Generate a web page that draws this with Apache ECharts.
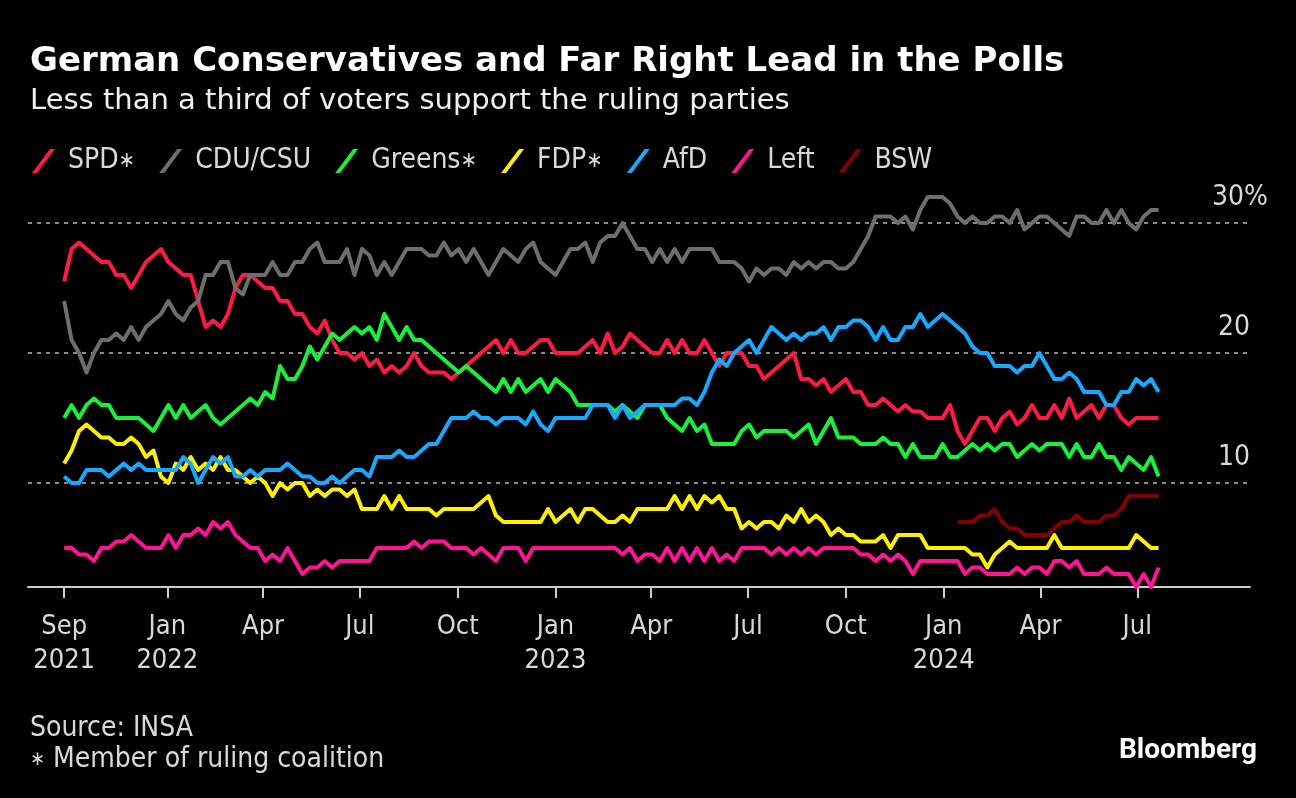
<!DOCTYPE html>
<html><head><meta charset="utf-8">
<script src="https://cdn.jsdelivr.net/npm/echarts@6/dist/echarts.min.js"></script>
<style>html,body{margin:0;padding:0;background:#000;}#chart{width:1296px;height:798px;}</style>
</head><body><div id="chart"></div>
<script>
// Weekly sample dates (Sundays) read along the x axis
const dates = [
'2021-09-26',
'2021-10-03','2021-10-10','2021-10-17','2021-10-24','2021-10-31',
'2021-11-07','2021-11-14','2021-11-21','2021-11-28',
'2021-12-05','2021-12-12','2021-12-19','2021-12-26',
'2022-01-02','2022-01-09','2022-01-16','2022-01-23','2022-01-30',
'2022-02-06','2022-02-13','2022-02-20','2022-02-27',
'2022-03-06','2022-03-13','2022-03-20','2022-03-27',
'2022-04-03','2022-04-10','2022-04-17','2022-04-24',
'2022-05-01','2022-05-08','2022-05-15','2022-05-22','2022-05-29',
'2022-06-05','2022-06-12','2022-06-19','2022-06-26',
'2022-07-03','2022-07-10','2022-07-17','2022-07-24','2022-07-31',
'2022-08-07','2022-08-14','2022-08-21','2022-08-28',
'2022-09-04','2022-09-11','2022-09-18','2022-09-25',
'2022-10-02','2022-10-09','2022-10-16','2022-10-23','2022-10-30',
'2022-11-06','2022-11-13','2022-11-20','2022-11-27',
'2022-12-04','2022-12-11','2022-12-18','2022-12-25',
'2023-01-01','2023-01-08','2023-01-15','2023-01-22','2023-01-29',
'2023-02-05','2023-02-12','2023-02-19','2023-02-26',
'2023-03-05','2023-03-12','2023-03-19','2023-03-26',
'2023-04-02','2023-04-09','2023-04-16','2023-04-23','2023-04-30',
'2023-05-07','2023-05-14','2023-05-21','2023-05-28',
'2023-06-04','2023-06-11','2023-06-18','2023-06-25',
'2023-07-02','2023-07-09','2023-07-16','2023-07-23','2023-07-30',
'2023-08-06','2023-08-13','2023-08-20','2023-08-27',
'2023-09-03','2023-09-10','2023-09-17','2023-09-24',
'2023-10-01','2023-10-08','2023-10-15','2023-10-22','2023-10-29',
'2023-11-05','2023-11-12','2023-11-19','2023-11-26',
'2023-12-03','2023-12-10','2023-12-17','2023-12-24','2023-12-31',
'2024-01-07','2024-01-14','2024-01-21','2024-01-28',
'2024-02-04','2024-02-11','2024-02-18','2024-02-25',
'2024-03-03','2024-03-10','2024-03-17','2024-03-24','2024-03-31',
'2024-04-07','2024-04-14','2024-04-21','2024-04-28',
'2024-05-05','2024-05-12','2024-05-19','2024-05-26',
'2024-06-02','2024-06-09','2024-06-16','2024-06-23','2024-06-30',
'2024-07-07','2024-07-14','2024-07-21'
];

const spd = [
25.5,28,28.5,28,27.5,27,27,26,26,25,
26,27,27.5,28,27,26.5,26,26,24,22,
22.5,22,23,25,26,26,25.5,25,25,24,
24,23,23,22,21.5,22.5,21,20,20,19.5,
20,19,19.5,18.5,19,18.5,19,20,19,18.5,
18.5,18.5,18,18.5,19,19.5,20,20.5,21,20,
21,20,20,20.5,21,21,20,20,20,20,
20.5,21,20,21.5,20,20.5,21.5,21,20.5,20,
20,21,20,21,20,20,21,20,19,20,
20,20,19,19,18,18.5,19,19.5,20,18,
18,17.5,18,17,17.5,18,17,17,16,16,
16.5,16,15.5,16,15.5,15.5,15,15,15,16,
14,13,14,15,15,14,15,15.5,14.5,15,
16,15,15,16,15,16.5,15,15.5,16,15,
16,16,15,14.5,15,15,15,15
];
const cdu = [
24,21,20,18.5,20,21,21,21.5,21,22,
21,22,22.5,23,24,23,22.5,23.5,24,26,
26,27,27,25,24.5,26,26,26,27,26,
26,27,27,28,28.5,27,27,27,28,26,
28,27.5,26,27,26,27,28,28,28,27.5,
27.5,28.5,27.5,28,27,28,27,26,27,28,
27.5,27,28,28.5,27,26.5,26,27,28,28,
28.5,27,28.5,29,29,30,29,28,28,27,
28,27,28,27,28,28,28,28,27,27,
27,26.5,25.5,26.5,26,26.5,26.5,26,27,26.5,
27,26.5,27,27,26.5,26.5,27,28,29,30.5,
30.5,30.5,30,30.5,29.5,31,32,32,32,31.5,
30.5,30,30.5,30,30,30.5,30.5,30,31,29.5,
30,30.5,30.5,30,29.5,29,30.5,30.5,30,30,
31,30,31,30,29.5,30.5,31,31
];
const greens = [
15,16,15,16,16.5,16,16,15,15,15,
15,14.5,14,15,16,15,16,15,15.5,16,
15,14.5,15,15.5,16,16.5,16,17,16.5,19,
18,18,19,20.5,19.5,20.5,21.5,21,21.5,22,
21.5,22,21,23,22,21,22,21,21,20.5,
20,19.5,19,18.5,19,18.5,18,17.5,17,18,
17,18,17,17.5,18,17,18,17.5,17,16,
16,16,16,16,15.5,16,15.5,15,16,16,
16,15,14.5,14,15,14,14.5,13,13,13,
13,14,14.5,13.5,14,14,14,14,13.5,14,
14.5,13,14,15,13.5,13.5,13.5,13,13,13,
13.5,13,13,12,13,12,12,12,13,12,
12,12.5,13,12.5,13,12.5,13,13,12,12.5,
13,12.5,13,13,13,12,13,12,12,13,
12,12,11,12,11.5,11,12,10.5
];
const fdp = [
11.5,12.5,14,14.5,14,13.5,13.5,13,13,13.5,
13,12,12.5,10.5,10,11.5,11,12,11,11.5,
11,12,11,11,10.5,10,10.5,10,9,10,
9.5,10,10,9,9.5,9,9.5,9.5,9,9.5,
8,8,8,9,8,9,8,8,8,8,
7.5,8,8,8,8,8,8.5,9,7.5,7,
7,7,7,7,7,8,7,7.5,8,7,
8,8,7.5,7,7,7.5,7,8,8,8,
8,8,9,8,9,8,9,8.5,9,8,
8,6.5,7,6.5,7,7,6.5,7.5,7,8,
7,7.5,7,6,6.5,6,6,5.5,5.5,5.5,
6,5,6,6,6,6,5,5,5,5,
5,5,4.5,4.5,3.5,4.5,5,5.5,5,5,
5,5,5,6,5,5,5,5,5,5,
5,5,5,5,6,5.5,5,5
];
const afd = [
10.5,10,10,11,11,11,10.5,11,11.5,11,
11.5,11,11,11,11,11,12,11.5,10,11,
12,11.5,12,10.5,10.5,11,10.5,11,11,11,
11.5,11,10.5,10.5,10,10,10.5,10,10.5,11,
11,10.5,12,12,12,12.5,12,12,12.5,13,
13,14,15,15,15,15.5,15,15,14.5,15,
15,15,14.5,15.5,14.5,14,15,15,15,15,
15,16,16,16,15,16,15,15.5,16,16,
16,16,16,16.5,16.5,16,17,18.5,19.5,19,
20,20.5,21,20,21,22,21.5,21,21.5,21,
21.5,21.5,22,21,22,22,22.5,22.5,22,21,
22,21,21,22,22,23,22,22.5,23,22.5,
22,21.5,20.5,20,20,19,19,19,18.5,19,
19,20,19,18,18,18.5,18,17,17,17,
16,16,17,17,18,17.5,18,17
];
const left = [
5,5,4.5,4.5,4,5,5,5.5,5.5,6,
5.5,5,5,5,6,5,6,6,6.5,6,
7,6.5,7,6,5.5,5,5,4,4.5,4,
5,4,3,3.5,3.5,4,3.5,4,4,4,
4,4,5,5,5,5,5,5.5,5,5.5,
5.5,5.5,5,5,5,4.5,5,4.5,4,5,
5,5,4,5,5,5,5,5,5,5,
5,5,5,5,5,4.5,5,4,4.5,4.5,
4,5,4,5,4,5,4,5,4,4.5,
4,5,5,5,5,4.5,5,4.5,5,4.5,
5,4.5,5,5,5,5,5,4.5,4.5,4,
4.5,4,4.5,4,3,4,4,4,4,4,
4,3,3.5,3.5,3,3,3,3,3.5,3,
3.5,3.5,3,4,4,3.5,4,3,3,3,
3.5,3,3,3,2,3,2,3.5
];
// BSW is polled from mid-January 2024
const bswStart = '2024-01-14';
const bsw = [
7,7,7,7.5,7.5,8,7,6.5,6.5,6,
6,6,6,6.5,7,7,7.5,7,7,7,
7.5,7.5,8,9,9,9,9,9
];

const seriesNames = ['SPD\u2217','CDU/CSU','Greens\u2217','FDP\u2217','AfD','Left','BSW'];
const seriesColors = ['#ff1a45','#6e6e6e','#19f03c','#fff000','#18a9ff','#ff1493','#840000'];
const tickDates = ['2021-09-26','2022-01-01','2022-04-01','2022-07-01','2022-10-01','2023-01-01','2023-04-01','2023-07-01','2023-10-01','2024-01-01','2024-04-01','2024-07-01'];
const tickLabels = ['Sep\n2021','Jan\n2022','Apr','Jul','Oct','Jan\n2023','Apr','Jul','Oct','Jan\n2024','Apr','Jul'];
const yTicks = [10,20,30];

const COND = '"DejaVu Sans Condensed", "DejaVu Sans", sans-serif';
function ts(s){ const p = s.split('-'); return Date.UTC(+p[0], +p[1]-1, +p[2]); }
const tickTs = tickDates.map(ts);

function pair(values, startIdx){
  const out = [];
  for (let i = 0; i < values.length; i++) {
    const d = dates[startIdx + i];
    if (d !== undefined) out.push([ts(d), values[i]]);
  }
  return out;
}
const bswIdx = dates.indexOf(bswStart);
const seriesValues = [spd, cdu, greens, fdp, afd, left];

const series = seriesValues.map((vals, k) => ({
  name: seriesNames[k], type: 'line', data: pair(vals, 0),
  showSymbol: false, symbol: 'none', color: seriesColors[k],
  lineStyle: {width: 4, color: seriesColors[k], join: 'round'},
  emphasis: {disabled: true}, silent: true
}));
series.push({
  name: seriesNames[6], type: 'line', data: pair(bsw, bswIdx),
  showSymbol: false, symbol: 'none', color: seriesColors[6],
  lineStyle: {width: 4, color: seriesColors[6], join: 'round'},
  emphasis: {disabled: true}, silent: true
});

const chart = echarts.init(document.getElementById('chart'), null, {renderer: 'canvas'});
chart.setOption({
  backgroundColor: '#000',
  animation: false,
  grid: {left: 28, right: 46, top: 197, bottom: 211, containLabel: false},
  legend: {
    left: 27, top: 141, itemWidth: 25, itemHeight: 24, itemGap: 24,
    icon: 'path://M0,24 L18,0 L23,0 L5,24 Z', selectedMode: false,
    formatter: function(name){ return name.replace('\u2217', '{a|\u2217}'); },
    textStyle: {
      color: '#d9d9d9', fontSize: 28, fontFamily: COND, padding: [0,0,0,7], lineHeight: 30,
      rich: {a: {color: '#d9d9d9', fontSize: 22, fontFamily: COND, lineHeight: 30}}
    },
    data: seriesNames
  },
  xAxis: {
    type: 'value',
    min: ts('2021-08-23'), max: ts('2024-10-15'),
    axisLine: {show: true, onZero: false, lineStyle: {color: '#cccccc', width: 2}},
    axisTick: {show: true, length: 11, lineStyle: {color: '#cccccc', width: 2}, customValues: tickTs},
    splitLine: {show: false},
    axisLabel: {
      customValues: tickTs, margin: 23, color: '#d9d9d9', fontSize: 27, fontFamily: COND, lineHeight: 34,
      formatter: function(v){
        const i = tickTs.indexOf(+v);
        return i >= 0 ? tickLabels[i] : '';
      }
    }
  },
  yAxis: {
    type: 'value', position: 'right', min: 2, max: 32,
    axisLine: {show: false},
    axisTick: {show: false, customValues: yTicks},
    splitLine: {show: true, lineStyle: {color: '#8a8a8a', width: 2, type: [4, 5]}},
    axisLabel: {
      customValues: yTicks, inside: true, margin: -18,
      verticalAlign: 'bottom', padding: [0,0,11,0], lineHeight: 28,
      formatter: function(v){ return v === 30 ? '{n|30%}' : '{n|' + v + '}{h| }'; },
      rich: {
        n: {color: '#d9d9d9', fontSize: 28, fontFamily: COND, lineHeight: 28},
        h: {color: 'rgba(0,0,0,0)', fontSize: 28, fontFamily: COND, lineHeight: 28, width: 18}
      }
    }
  },
  graphic: [
    {type: 'text', x: 30, y: 62, silent: true, style: {text: 'German Conservatives and Far Right Lead in the Polls', fill: '#ffffff', font: 'bold 34px "DejaVu Sans", sans-serif', verticalAlign: 'middle', align: 'left'}},
    {type: 'text', x: 30, y: 101, silent: true, style: {text: 'Less than a third of voters support the ruling parties', fill: '#f0f0f0', font: '29px "DejaVu Sans", sans-serif', verticalAlign: 'middle', align: 'left'}},
    {type: 'text', x: 30, y: 729, silent: true, style: {text: 'Source: INSA', fill: '#d9d9d9', font: '28px ' + COND, verticalAlign: 'middle', align: 'left'}},
    {type: 'text', x: 30, y: 760, silent: true, style: {
      text: '{a|\u2217} Member of ruling coalition', fill: '#d9d9d9', font: '28px ' + COND, verticalAlign: 'middle', align: 'left',
      rich: {a: {fill: '#d9d9d9', font: '20px ' + COND}}
    }},
    {type: 'text', x: 1257, y: 751, silent: true, style: {text: 'Bloomberg', fill: '#ffffff', font: 'bold 28px Roboto, "Liberation Sans", sans-serif', verticalAlign: 'middle', align: 'right'}}
  ],
  series: series
});
</script>
</body></html>
